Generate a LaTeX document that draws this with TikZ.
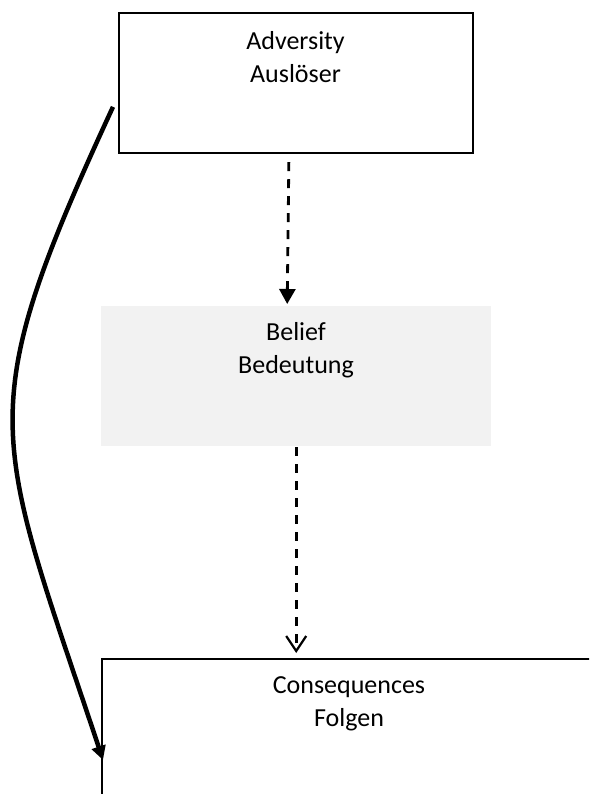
\documentclass[tikz,border=0pt]{standalone}
\usepackage{fontspec}
\setmainfont{Carlito}
\usetikzlibrary{arrows.meta}
\definecolor{boxgray}{HTML}{F2F2F2}
\tikzset{
  x=1pt, y=-1pt,
  frame/.style={draw=black, line width=1.7pt, fill=white, rectangle, inner sep=0pt, anchor=north west},
  graybox/.style={fill=boxgray, draw=none, rectangle, inner sep=0pt, anchor=north west},
  lbl/.style={font=\fontsize{26}{32.5}\selectfont, align=center, inner sep=0pt, anchor=base},
  dashlink/.style={line width=2.8pt, dash pattern=on 9pt off 8pt},
}
\begin{document}
\begin{tikzpicture}
\clip (0,0) rectangle (589,794);
\fill[white] (0,0) rectangle (589,794);

\node[frame, minimum width=354pt, minimum height=140pt] (adv) at (118,12.5) {};
\node[graybox, minimum width=390pt, minimum height=140pt] (bel) at (101,306) {};
\node[frame, minimum width=500pt, minimum height=180pt] (cons) at (101,658) {};

\node[lbl] (advT) at (295.5,82.5) {Adversity\\Auslöser};
\node[lbl] (belT) at (296,373) {Belief\\Bedeutung};
\node[lbl] (consT) at (349,726) {Consequences\\Folgen};

\draw[dashlink, -{Triangle[length=15pt,width=16pt]}]
  ([xshift=-7pt,yshift=-8pt]adv.south) -- ([xshift=-9pt,yshift=2pt]bel.north);
\draw[dashlink, -{Straight Barb[length=15pt,width=20pt,line width=2.2pt]}]
  ([yshift=-1pt]bel.south) -- ([yshift=5pt]bel.south |- cons.north);

\draw[line width=4.5pt, -{Triangle[length=14pt,width=14pt]}]
  ([xshift=-5pt,yshift=-23.5pt]adv.west) .. controls (-30,416) and (-7,430) ..
  ([xshift=2pt,yshift=-102pt]cons.north west);
\end{tikzpicture}
\end{document}
